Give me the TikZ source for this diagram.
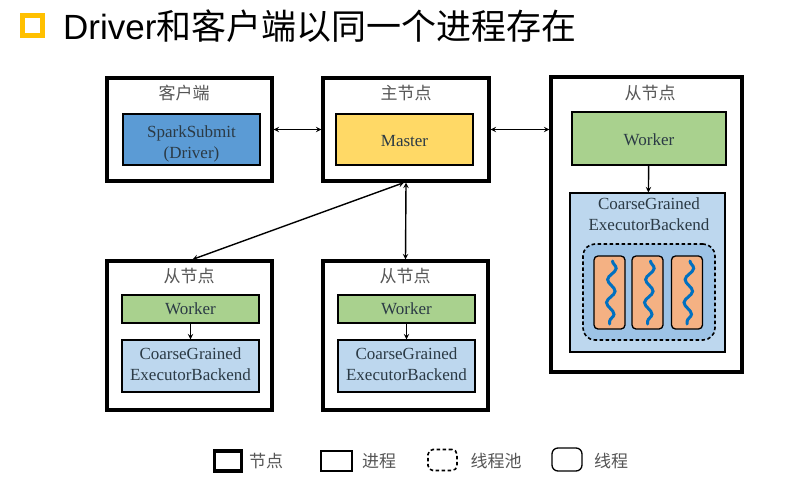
\documentclass[tikz,border=0pt]{standalone}
\usepackage{fontspec}
\setmainfont{Liberation Serif}
\newfontfamily\titlefont{Liberation Sans}
\newfontfamily\cjk{Noto Sans CJK SC}
\usetikzlibrary{arrows}
\usetikzlibrary{decorations.pathmorphing}
\definecolor{bulletyellow}{HTML}{FFC000}
\definecolor{sparkblue}{HTML}{5B9BD5}
\definecolor{masteryellow}{HTML}{FFD966}
\definecolor{workergreen}{HTML}{A9D18E}
\definecolor{backendblue}{HTML}{BDD7EE}
\definecolor{poolblue}{HTML}{9DC3E6}
\definecolor{threadorange}{HTML}{F4B183}
\definecolor{wavyblue}{HTML}{0070C0}
\definecolor{labelgray}{HTML}{555555}
\definecolor{boxtext}{HTML}{2B3A45}
\tikzset{hostbox/.style = {draw, line width = 3.2, inner sep = 0},
  procbox/.style = {draw, line width = 1.2, inner sep = 0, align = center, text = boxtext,
    font = \fontsize{17}{21}\selectfont},
  poolbox/.style = {draw, dash pattern = on 3.5 off 2.5, line width = 1.6, rounded corners = 12, inner sep = 0},
  threadbox/.style = {draw, line width = 1.3, rounded corners = 4, inner sep = 0},
  cjklabel/.style = {text = labelgray, inner sep = 0, font = \cjk\fontsize{17}{17}\selectfont},
  link/.style = {line width = 1.4, >=stealth},
  wavy/.style = {wavyblue, line width = 3, line cap = round,
    decorate, decoration = {snake, amplitude = 4, segment length = 23}}}
\begin{document}
\begin{tikzpicture}[x=1pt, y=-1pt]
    \useasboundingbox (0, 0) rectangle (808, 480);

    % heading
    \node [draw = bulletyellow, line width = 5, minimum size = 20, inner sep = 0] (bullet) at (32.5, 25.5) {};
    \node [anchor = west, inner sep = 0, font = \fontsize{35}{35}\selectfont] (heading) at (63, 26.5)
      {\titlefont Driver\cjk 和客户端以同一个进程存在};

    % client and master
    \node [hostbox, minimum width = 165, minimum height = 103] (client) at (189.5, 129.5) {};
    \node [cjklabel] (clientlabel) at (184, 93) {客户端};
    \node [procbox, fill = sparkblue, minimum width = 137, minimum height = 51, text height = 41] (submit) at (191.5, 139.5) {SparkSubmit\\(Driver)};

    \node [hostbox, minimum width = 166, minimum height = 103] (master) at (406, 129.5) {};
    \node [cjklabel] (masterlabel) at (406, 93) {主节点};
    \node [procbox, fill = masteryellow, minimum width = 137, minimum height = 51, text height = 15] (masterproc) at (404.5, 139.5) {Master};

    % big worker node
    \node [hostbox, minimum width = 191, minimum height = 295] (bignode) at (646.5, 224.5) {};
    \node [cjklabel] (biglabel) at (650, 93) {从节点};
    \node [procbox, fill = workergreen, minimum width = 154, minimum height = 53, text height = 15] (bigworker) at (649, 138.5) {Worker};
    \node [procbox, fill = backendblue, minimum width = 155, minimum height = 159] (bigbackend) at (647.5, 272.5) {};
    \node [text = boxtext, inner sep = 0, align = center, font = \fontsize{17}{21}\selectfont] (bigbackendlabel) at (649, 214.5) {CoarseGrained\\ExecutorBackend};
    \node [poolbox, fill = poolblue, minimum width = 132, minimum height = 96] (pool) at (649, 292) {};
    \foreach \name/\px in {one/609.5, two/647.5, three/687} {
      \node [threadbox, fill = threadorange, minimum width = 31, minimum height = 73] (thread\name) at (\px, 292.5) {};
      \draw [wavy] (\px + 3, 261) -- (\px, 324);
    }
    \draw [->, link] (bigworker) -- (bigbackend);

    % the two small worker nodes
    \foreach \name/\dx in {left/0, mid/216} {
      \begin{scope}[shift = {(\dx, 0)}]
        \node [hostbox, minimum width = 165, minimum height = 149] (\name-node) at (189.5, 335.5) {};
        \node [cjklabel] (\name-label) at (189, 276) {从节点};
        \node [procbox, fill = workergreen, minimum width = 137, minimum height = 28] (\name-worker) at (190.5, 309) {Worker};
        \node [procbox, fill = backendblue, minimum width = 137, minimum height = 52, text depth = 3] (\name-backend) at (190.5, 366) {CoarseGrained\\ExecutorBackend};
        \draw [->, link] (\name-worker) -- (\name-backend);
      \end{scope}
    }

    % links
    \draw [<->, link] (client) -- (master);
    \draw [<->, link] (master) -- (bignode.west |- master);
    \draw [<->, link] (master.south) -- (mid-node.north);
    \draw [<->, link] ([xshift = -2]master.south) -- ([xshift = 3]left-node.north);

    % legend
    \node [hostbox, minimum width = 27, minimum height = 20] (keynode) at (228, 461) {};
    \node [cjklabel] (keynodelabel) at (266, 461) {节点};
    \node [draw, line width = 1.3, inner sep = 0, minimum width = 31, minimum height = 20] (keyproc) at (336.5, 461) {};
    \node [cjklabel] (keyproclabel) at (379, 461) {进程};
    \node [poolbox, minimum width = 29, minimum height = 21, rounded corners = 5] (keypool) at (442.5, 460) {};
    \node [cjklabel] (keypoollabel) at (496, 461) {线程池};
    \node [threadbox, minimum width = 30, minimum height = 23, rounded corners = 6] (keythread) at (567, 459.5) {};
    \node [cjklabel] (keythreadlabel) at (611, 461) {线程};
  \end{tikzpicture}
\end{document}
